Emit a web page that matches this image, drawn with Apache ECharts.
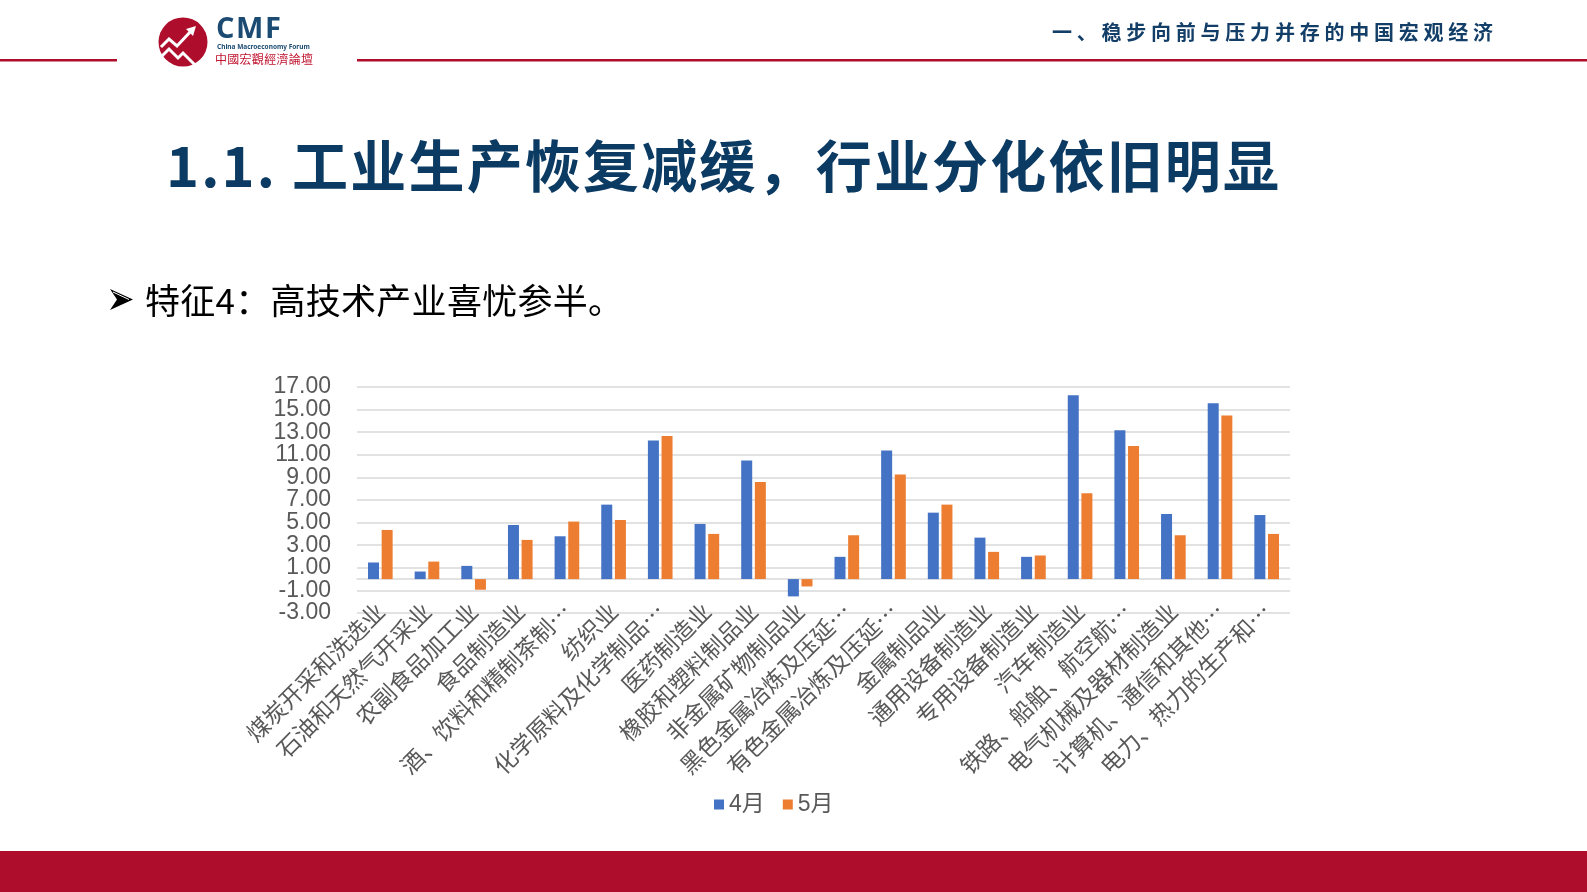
<!DOCTYPE html>
<html><head><meta charset="utf-8">
<script src="https://cdn.jsdelivr.net/npm/echarts@6/dist/echarts.min.js"></script>
<style>html,body{margin:0;padding:0;background:#fff}#main{width:1587px;height:892px}</style>
</head><body><div id="main"></div>
<script>
// ---- data ----
const categories = ['煤炭开采和洗选业','石油和天然气开采业','农副食品加工业','食品制造业','酒、饮料和精制茶制…','纺织业','化学原料及化学制品…','医药制造业','橡胶和塑料制品业','非金属矿物制品业','黑色金属冶炼及压延…','有色金属冶炼及压延…','金属制品业','通用设备制造业','专用设备制造业','汽车制造业','铁路、船舶、航空航…','电气机械及器材制造业','计算机、通信和其他…','电力、热力的生产和…'];
const aprilValues = [1.47,0.67,1.17,4.79,3.79,6.59,12.26,4.88,10.5,-1.53,1.97,11.38,5.88,3.67,1.97,16.27,13.18,5.76,15.56,5.67];
const mayValues   = [4.35,1.55,-0.94,3.47,5.09,5.23,12.67,4.0,8.59,-0.65,3.88,9.26,6.59,2.41,2.09,7.59,11.77,3.88,14.47,4.0];
const seriesNames = ['4月','5月'];
const yTicks = [-3,-1,1,3,5,7,9,11,13,15,17];
const headerText = '一、稳步向前与压力并存的中国宏观经济';
const titleText = '1.1. 工业生产恢复减缓，行业分化依旧明显';
const subtitleText = '特征4：高技术产业喜忧参半。';
const logoText = 'CMF';
const logoSub = 'China Macroeconomy Forum';
const logoCn = '中國宏觀經濟論壇';

// ---- helpers ----
const CJK = "'Noto Sans CJK SC','Noto Sans',sans-serif";
const NUM = "'Liberation Sans','Noto Sans CJK SC',sans-serif";
const mctx = document.createElement('canvas').getContext('2d');
function fitText(str, x0, x1, y, size, weight, family, color) {
  const font = weight + ' ' + size + 'px ' + family;
  mctx.font = font;
  const chars = Array.from(str);
  const widths = chars.map(c => mctx.measureText(c).width);
  const total = widths.reduce((a, b) => a + b, 0);
  const sp = chars.length > 1 ? ((x1 - x0) - total) / (chars.length - 1) : 0;
  let cx = x0;
  return chars.map((c, i) => {
    const el = {type: 'text', x: cx, y: y, silent: true,
      style: {text: c, fontSize: size, fontWeight: weight, fontFamily: family, fill: color, align: 'left', verticalAlign: 'middle'}};
    cx += widths[i] + sp;
    return el;
  });
}
const RED = '#AE0E2C';
const NAVY = '#0B3A63';

const graphics = [
  {type: 'rect', shape: {x: 0, y: 59, width: 117, height: 2.5}, style: {fill: RED}},
  {type: 'rect', shape: {x: 357, y: 59, width: 1230, height: 2.5}, style: {fill: RED}},
  {type: 'rect', shape: {x: 0, y: 851, width: 1587, height: 41}, style: {fill: RED}},
  {type: 'circle', shape: {cx: 183, cy: 42, r: 24.5}, style: {fill: RED}},
  {type: 'polyline', shape: {points: [[161, 47], [169, 39], [177, 46], [192, 30]]}, style: {stroke: '#fff', lineWidth: 3, fill: null}},
  {type: 'polygon', shape: {points: [[196, 26], [186, 29], [193, 36]]}, style: {fill: '#fff'}},
  {type: 'polyline', shape: {points: [[160, 58], [169, 49], [178, 58], [183, 53], [196, 66]]}, style: {stroke: '#fff', lineWidth: 3, fill: null}},
  ...fitText(logoText, 216, 281, 30, 29, 'bold', "'Open Sans','Noto Sans',sans-serif", '#1B4A72'),
  {type: 'text', x: 217, y: 47, style: {text: logoSub, fontSize: 6.5, fontWeight: 'bold', fontFamily: "'Noto Sans',sans-serif", fill: '#1B4A72', verticalAlign: 'middle'}},
  ...fitText(logoCn, 215, 313, 59, 12, 'normal', "'Noto Sans CJK TC',sans-serif", '#C0142F'),
  ...fitText(headerText, 1052, 1493, 32, 20, 'bold', CJK, '#133E68'),
  ...fitText(titleText, 166, 1279, 166, 56, 'bold', CJK, NAVY),
  {type: 'polygon', shape: {points: [[110, 289], [133, 299.5], [110, 310], [117, 299.5]]}, style: {fill: '#000'}},
  {type: 'polyline', shape: {points: [[113, 292], [129, 299.5]]}, style: {stroke: '#fff', lineWidth: 1, fill: null}},
  ...fitText(subtitleText, 145, 623, 301, 35, 'normal', CJK, '#000')
];

// Visible label/grid axis uses step indices so that ticks fall on the odd values of yTicks
const yStep = yTicks[1] - yTicks[0];
const yIdxMax = (yTicks.length - 1) * yStep;
const yLabelStyle = {fontSize: 23, color: '#595959', fontFamily: NUM, margin: 26};

const chart = echarts.init(document.getElementById('main'), null, {renderer: 'canvas'});
chart.setOption({
  backgroundColor: '#fff',
  animation: false,
  graphic: graphics,
  grid: {left: 357, right: 297, top: 387, bottom: 279, containLabel: false},
  legend: {
    data: seriesNames, left: 714, top: 793, itemWidth: 10, itemHeight: 10, itemGap: 18, padding: 0,
    icon: 'rect',
    textStyle: {fontSize: 23, color: '#595959', fontFamily: NUM}
  },
  xAxis: {
    type: 'category', data: categories,
    axisLine: {onZero: true, onZeroAxisIndex: 1, lineStyle: {color: '#D9D9D9', width: 1.5}},
    axisTick: {show: false},
    axisLabel: {rotate: 45, interval: 0, margin: -6, fontSize: 23, color: '#595959', fontFamily: CJK}
  },
  yAxis: [
    {
      type: 'value', position: 'left', min: 0, max: yIdxMax, interval: yStep,
      axisLine: {show: false}, axisTick: {show: false},
      axisLabel: Object.assign({showMinLabel: false, showMaxLabel: false,
        formatter: v => yTicks[Math.round(v / yStep)].toFixed(2)}, yLabelStyle),
      splitLine: {lineStyle: {color: '#D9D9D9', width: 1.5}}
    },
    {
      type: 'value', position: 'left', min: yTicks[0], max: yTicks[yTicks.length - 1],
      axisLine: {show: false}, axisTick: {show: false, customValues: [yTicks[0], yTicks[yTicks.length - 1]]},
      axisLabel: Object.assign({customValues: [yTicks[0], yTicks[yTicks.length - 1]], showMinLabel: true, showMaxLabel: true,
        formatter: v => v.toFixed(2)}, yLabelStyle),
      splitLine: {show: false}
    }
  ],
  series: [
    {name: seriesNames[0], type: 'bar', yAxisIndex: 1, data: aprilValues, barWidth: 11, barGap: '24%', itemStyle: {color: '#4472C4'}},
    {name: seriesNames[1], type: 'bar', yAxisIndex: 1, data: mayValues, barWidth: 11, itemStyle: {color: '#ED7D31'}}
  ]
});
</script></body></html>
